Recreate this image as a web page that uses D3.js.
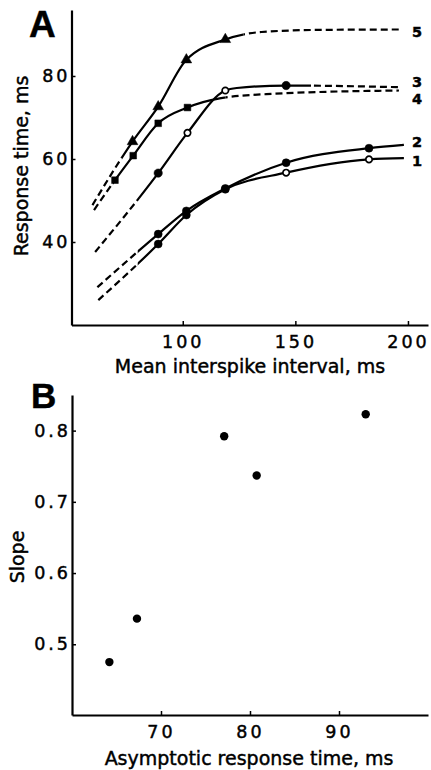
<!DOCTYPE html>
<html>
<head>
<meta charset="utf-8">
<script src="https://cdn.jsdelivr.net/npm/d3@7"></script>
<style>
  body { margin: 0; background: #fff; }
  svg { display: block; }
  text { font-family: "DejaVu Sans", sans-serif; fill: #000; stroke: #000; stroke-width: 0.45px; }
</style>
</head>
<body>
<svg id="chart" width="431" height="770"></svg>
<script>
// ---- Panel A data: response time (ms) vs mean interspike interval (ms)
const seriesNames = ["1", "2", "3", "4", "5"];

// fitted curves
const curve1 = [[62.5, 26.0], [89.1, 39.5], [101.6, 46.5], [118.9, 52.7], [145.9, 56.7], [182.7, 59.9], [198.2, 60.2]];
const curve2 = [[62.1, 29.1], [89.1, 41.9], [101.6, 47.5], [118.9, 52.9], [145.9, 59.1], [182.7, 62.6], [198.2, 63.4]];
const curve3 = [[61.1, 37.6], [89.1, 56.6], [102.1, 66.3], [118.9, 76.5], [124, 77.1], [145.9, 77.7], [196, 77.3]];
const curve4 = [[60.6, 47.7], [69.9, 54.9], [78.0, 60.8], [89.1, 68.6], [102.1, 72.4], [116.4, 74.6], [140, 75.7], [196, 76.5]];
const curve5 = [[59.9, 48.9], [77.7, 64.2], [89.1, 72.6], [101.6, 83.9], [118.9, 88.8], [135, 90.6], [160, 91.1], [196, 91.2]];

// x range where each curve is drawn solid (dashed outside)
const solidFrom = [80, 80, 81, 69, 73];
const solidTo = [999, 999, 157, 119, 127];

// measured points
const filled1 = [[89.1, 39.5], [101.6, 46.5], [118.9, 52.7]];
const open1 = [[145.9, 56.7], [182.7, 59.9]];
const filled2 = [[89.1, 41.9], [101.6, 47.5], [118.9, 52.9], [145.9, 59.1], [182.7, 62.6]];
const filled3 = [[89.1, 56.6], [145.9, 77.7]];
const open3 = [[102.1, 66.3], [118.9, 76.5]];
const squares4 = [[69.9, 54.9], [78.0, 60.8], [89.1, 68.6], [102.1, 72.4]];
const triangles5 = [[77.7, 64.2], [89.1, 72.6], [101.6, 83.9], [118.9, 88.8]];

const ticksAx = [100, 150, 200];
const ticksAy = [40, 60, 80];

// ---- Panel B data: slope vs asymptotic response time
const asymptote = [64.2, 67.3, 77.1, 80.75, 93.0];
const slope = [0.475, 0.536, 0.792, 0.737, 0.823];
const ticksBx = [70, 80, 90];
const ticksBy = [0.5, 0.6, 0.7, 0.8];

const svg = d3.select("#chart");
const defs = svg.append("defs");

// scales
const xA = d3.scaleLinear().domain([50.6, 208.9]).range([71.5, 428]);
const yA = d3.scaleLinear().domain([20, 95.9]).range([325, 10]);
const xB = d3.scaleLinear().domain([60, 100]).range([72, 428]);
const yB = d3.scaleLinear().domain([0.4007, 0.85]).range([715, 395]);

// axis helper: inward ticks, thick domain line
function styleAxis(g) {
  g.attr("font-family", null).attr("font-size", null);
  g.select(".domain").attr("stroke-width", 2.2);
  g.selectAll(".tick line").attr("stroke-width", 1.5);
  g.selectAll(".tick text")
    .attr("fill", null)
    .style("font-size", "17.5px")
    .style("letter-spacing", "3px");
}

// ---- Panel A
const gA = svg.append("g");

gA.append("g")
  .attr("transform", `translate(0,${yA.range()[0]})`)
  .call(d3.axisBottom(xA).tickValues(ticksAx).tickSizeInner(-4).tickSizeOuter(0).tickPadding(10.5))
  .call(styleAxis);

gA.append("g")
  .attr("transform", `translate(${xA.range()[0]},0)`)
  .call(d3.axisLeft(yA).tickValues(ticksAy).tickSizeInner(-4).tickSizeOuter(0).tickPadding(1))
  .call(styleAxis);

const lineA = d3.line()
  .x(d => xA(d[0]))
  .y(d => yA(d[1]))
  .curve(d3.curveMonotoneX);

const curves = [curve1, curve2, curve3, curve4, curve5];

curves.forEach((pts, i) => {
  const x0 = xA(solidFrom[i]);
  const x1 = Math.min(xA(solidTo[i]), 431);
  const solidClip = defs.append("clipPath").attr("id", "solid" + i);
  solidClip.append("rect").attr("x", x0).attr("y", 0).attr("width", Math.max(0, x1 - x0)).attr("height", 770);
  const dashClip = defs.append("clipPath").attr("id", "dash" + i);
  dashClip.append("rect").attr("x", 0).attr("y", 0).attr("width", x0).attr("height", 770);
  dashClip.append("rect").attr("x", x1).attr("y", 0).attr("width", Math.max(0, 431 - x1)).attr("height", 770);

  gA.append("path")
    .attr("d", lineA(pts))
    .attr("fill", "none")
    .attr("stroke", "#000")
    .attr("stroke-width", 2.2)
    .attr("clip-path", `url(#solid${i})`);

  gA.append("path")
    .attr("d", lineA(pts))
    .attr("fill", "none")
    .attr("stroke", "#000")
    .attr("stroke-width", 2.2)
    .attr("stroke-dasharray", "7,4")
    .attr("clip-path", `url(#dash${i})`);
});

// markers
function drawMarks(pts, type, size, hollow) {
  gA.append("g")
    .selectAll("path")
    .data(pts)
    .join("path")
    .attr("transform", d => `translate(${xA(d[0])},${yA(d[1])})`)
    .attr("d", d3.symbol().type(type).size(size))
    .attr("fill", hollow ? "#fff" : "#000")
    .attr("stroke", "#000")
    .attr("stroke-width", hollow ? 1.7 : 0.5);
}

drawMarks(filled1, d3.symbolCircle, 50, false);
drawMarks(open1, d3.symbolCircle, 32, true);
drawMarks(filled2, d3.symbolCircle, 50, false);
drawMarks(filled3, d3.symbolCircle, 55, false);
drawMarks(open3, d3.symbolCircle, 32, true);
drawMarks(squares4, d3.symbolSquare, 45, false);
drawMarks(triangles5, d3.symbolTriangle, 50, false);

// curve numbers at the right end
const labelNudge = [3, -3, -5.2, 8.5, 2];
gA.append("g")
  .selectAll("text")
  .data(seriesNames)
  .join("text")
  .attr("x", 412)
  .attr("y", (d, i) => yA(curves[i][curves[i].length - 1][1]) + labelNudge[i])
  .attr("dy", "0.36em")
  .style("font-size", "14.5px")
  .style("font-weight", "bold")
  .text(d => d);

// titles
gA.append("text")
  .attr("x", 250).attr("y", 373)
  .attr("text-anchor", "middle")
  .style("font-size", "19px")
  .text("Mean interspike interval, ms");

gA.append("text")
  .attr("transform", "translate(28,166) rotate(-90)")
  .attr("text-anchor", "middle")
  .style("font-size", "19px")
  .text("Response time, ms");

gA.append("text")
  .attr("x", 29).attr("y", 37)
  .style("font-family", "'Liberation Sans', sans-serif")
  .style("font-weight", "bold")
  .style("font-size", "37px")
  .text("A");

// ---- Panel B
const gB = svg.append("g");

gB.append("g")
  .attr("transform", `translate(0,${yB.range()[0]})`)
  .call(d3.axisBottom(xB).tickValues(ticksBx).tickSizeInner(-4).tickSizeOuter(0).tickPadding(10.5))
  .call(styleAxis);

gB.append("g")
  .attr("transform", `translate(${xB.range()[0]},0)`)
  .call(d3.axisLeft(yB).tickValues(ticksBy).tickFormat(d3.format(".1f")).tickSizeInner(-4).tickSizeOuter(0).tickPadding(1))
  .call(styleAxis);

gB.append("g")
  .selectAll("circle")
  .data(asymptote)
  .join("circle")
  .attr("cx", d => xB(d))
  .attr("cy", (d, i) => yB(slope[i]))
  .attr("r", 4.2)
  .attr("fill", "#000");

gB.append("text")
  .attr("x", 249).attr("y", 765)
  .attr("text-anchor", "middle")
  .style("font-size", "19px")
  .text("Asymptotic response time, ms");

gB.append("text")
  .attr("transform", "translate(24,557) rotate(-90)")
  .attr("text-anchor", "middle")
  .style("font-size", "19px")
  .text("Slope");

gB.append("text")
  .attr("x", 31).attr("y", 408)
  .style("font-family", "'Liberation Sans', sans-serif")
  .style("font-weight", "bold")
  .style("font-size", "35px")
  .text("B");
</script>
</body>
</html>
